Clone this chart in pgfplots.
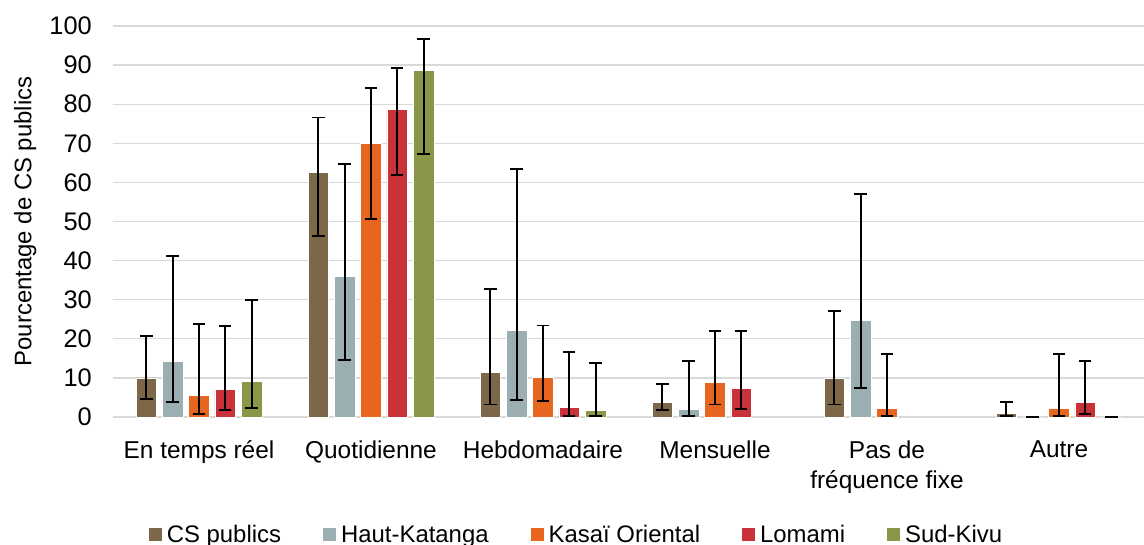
\documentclass[border=0pt]{standalone}
\usepackage{fontspec}
\setmainfont{Liberation Sans}
\usepackage{pgfplots}
\usepackage{pgfplotstable}
\pgfplotsset{compat=1.18}
\definecolor{cBrown}{HTML}{7D6749}
\definecolor{cBlue}{HTML}{9BAEB2}
\definecolor{cOrange}{HTML}{E66620}
\definecolor{cRed}{HTML}{C83238}
\definecolor{cGreen}{HTML}{8A9748}
\definecolor{cGrid}{HTML}{D9D9D9}

\pgfplotstableread{
x y ep em
0 10.0 10.7 5.4
1 62.6 14.0 16.4
2 11.4 21.3 8.2
3 3.8 4.6 2.1
4 9.8 17.2 6.6
5 0.9 2.9 0.6
}\tBrown
\pgfplotstableread{
x y ep em
0 14.3 26.9 10.5
1 36.0 28.7 21.5
2 22.2 41.2 17.8
3 2.0 12.4 1.8
4 24.7 32.4 17.3
5 0 0 0
}\tBlue
\pgfplotstableread{
x y ep em
0 5.5 18.3 4.65
1 69.9 14.2 19.3
2 10.2 13.2 6.2
3 8.8 13.1 5.6
4 2.2 13.8 2.0
5 2.2 13.8 2.0
}\tOrange
\pgfplotstableread{
x y ep em
0 7.0 16.3 5.3
1 78.6 10.6 16.6
2 2.5 14.2 2.2
3 7.4 14.5 5.3
5 3.7 10.6 3.0
}\tRed
\pgfplotstableread{
x y ep em
0 9.1 20.9 6.8
1 88.7 8.0 21.4
2 1.7 12.2 1.5
5 0 0 0
}\tGreen

\pgfplotsset{
  eb/.style={draw=white, line width=0.6bp, fill=#1,
    error bars/.cd, y dir=both, y explicit,
    error bar style={black, line width=1.9bp},
    error mark options={black, line width=1.9bp, mark size=6.2bp, rotate=90}},
}

\begin{document}
\begin{tikzpicture}
\begin{axis}[
  anchor=south west,
  scale only axis, width=1032bp, height=391bp,
  ymin=0, ymax=100, ytick={0,10,...,100},
  xmin=-0.5, xmax=5.5, xtick={0,...,5},
  xticklabels={En temps réel, Quotidienne, Hebdomadaire, Mensuelle, {Pas de\\fréquence fixe}, Autre},
  ybar=5.6bp, bar width=20.7bp,
  axis line style={draw=none},
  tick style={draw=none},
  ymajorgrids, major grid style={cGrid, line width=1.3bp},
  /pgf/number format/assume math mode=true,
  yticklabel style={font=\fontsize{25.5}{28}\selectfont, inner sep=0pt, anchor=east, xshift=-21bp},
  xticklabel style={font=\fontsize{24.5}{30}\selectfont, inner sep=0pt, anchor=north, align=center, yshift=-19bp},
  ylabel={Pourcentage de CS publics},
  every axis y label/.style={at={(axis description cs:-0.085,0.5)}, rotate=90, anchor=center, font=\fontsize{24}{28}\selectfont},
  legend columns=5,
  legend style={at={(axis description cs:0.4506,-0.301)}, anchor=center, draw=none,
    font=\fontsize{24}{28}\selectfont, inner sep=0pt,
    nodes={inner xsep=5bp, inner ysep=0bp},
    /tikz/every even column/.append style={column sep=37bp}},
  legend image code/.code={\fill[#1, draw=none] (0bp,-6.5bp) rectangle (13bp,6.5bp);},
]
\addplot[eb=cBrown] table[x=x,y=y,y error plus=ep,y error minus=em]{\tBrown};
\addlegendentry{CS publics}
\addplot[eb=cBlue] table[x=x,y=y,y error plus=ep,y error minus=em]{\tBlue};
\addlegendentry{Haut-Katanga}
\addplot[eb=cOrange] table[x=x,y=y,y error plus=ep,y error minus=em]{\tOrange};
\addlegendentry{Kasaï Oriental}
\addplot[eb=cRed] table[x=x,y=y,y error plus=ep,y error minus=em]{\tRed};
\addlegendentry{Lomami}
\addplot[eb=cGreen] table[x=x,y=y,y error plus=ep,y error minus=em]{\tGreen};
\addlegendentry{Sud-Kivu}
\end{axis}
\pgfresetboundingbox
\path[use as bounding box] (-113bp,-128bp) rectangle (1031bp,417bp);
\end{tikzpicture}
\end{document}
